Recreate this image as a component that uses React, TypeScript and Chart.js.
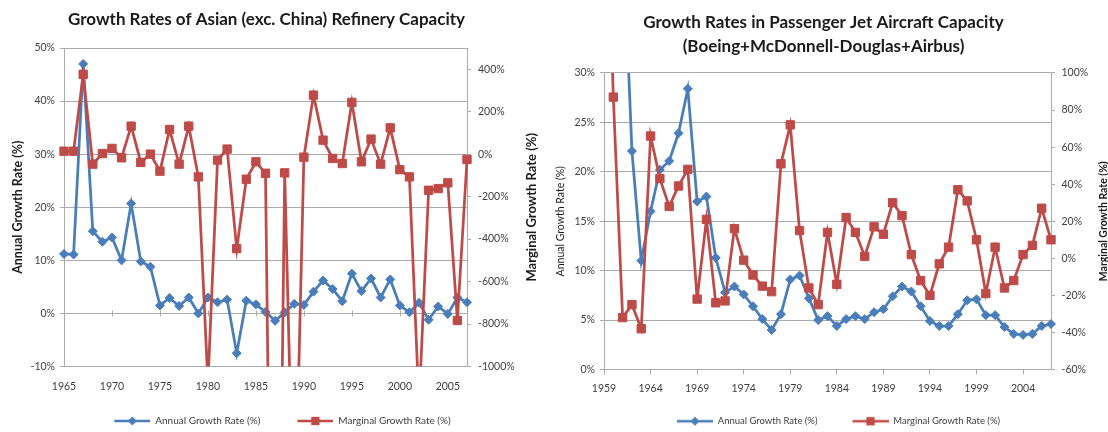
import React, { useEffect, useRef } from 'react';
import { Chart, registerables } from 'chart.js';

Chart.register(...registerables);

const FONT = 'Lato, "Liberation Sans", sans-serif';
Chart.defaults.font.family = FONT;

const BLUE = '#4A7EBB';
const RED = '#BE4B48';
const GRID = '#ABABAB';
const TEXT = '#3F3F3F';
const DARK = '#1A1A1A';

// ---------- Left chart: Asian (exc. China) refinery capacity ----------
const refineryYears = [
  1965, 1966, 1967, 1968, 1969, 1970, 1971, 1972, 1973, 1974,
  1975, 1976, 1977, 1978, 1979, 1980, 1981, 1982, 1983, 1984,
  1985, 1986, 1987, 1988, 1989, 1990, 1991, 1992, 1993, 1994,
  1995, 1996, 1997, 1998, 1999, 2000, 2001, 2002, 2003, 2004,
  2005, 2006, 2007,
];
const refineryAnnual = [
  11.2, 11.1, 47.0, 15.5, 13.5, 14.3, 10.0, 20.7, 9.8, 8.8,
  1.5, 2.9, 1.4, 3.0, 0.0, 3.0, 2.1, 2.6, -7.5, 2.4,
  1.7, 0.3, -1.4, 0.2, 1.8, 1.6, 4.1, 6.2, 4.6, 2.3,
  7.5, 4.2, 6.6, 3.0, 6.4, 1.5, 0.2, 2.0, -1.2, 1.3,
  -0.1, 3.0, 2.1,
];
const refineryMarginal = [
  14, 14, 376, -47, 3, 27, -17, 132, -39, 0,
  -80, 116, -47, 132, -107, -1080, -28, 24, -445, -118,
  -36, -90, -3800, -88, -1900, -14, 278, 66, -20, -44,
  244, -36, 71, -47, 124, -73, -107, -1180, -170, -162,
  -135, -783, -25,
];
const refineryYearTicks = [1965, 1970, 1975, 1980, 1985, 1990, 1995, 2000, 2005];
const refineryLeftTicks = [-10, 0, 10, 20, 30, 40, 50];
const refineryRightTicks = [-1000, -800, -600, -400, -200, 0, 200, 400];

// ---------- Right chart: passenger jet aircraft capacity ----------
const jetYears = [
  1959, 1960, 1961, 1962, 1963, 1964, 1965, 1966, 1967, 1968,
  1969, 1970, 1971, 1972, 1973, 1974, 1975, 1976, 1977, 1978,
  1979, 1980, 1981, 1982, 1983, 1984, 1985, 1986, 1987, 1988,
  1989, 1990, 1991, 1992, 1993, 1994, 1995, 1996, 1997, 1998,
  1999, 2000, 2001, 2002, 2003, 2004, 2005, 2006, 2007,
];
const jetAnnual = [
  80, 65, 45, 22.1, 11.0, 16.0, 20.2, 21.1, 23.9, 28.4,
  17.0, 17.5, 11.3, 7.8, 8.4, 7.6, 6.4, 5.1, 4.0, 5.6,
  9.1, 9.5, 7.2, 5.0, 5.4, 4.4, 5.1, 5.4, 5.1, 5.8,
  6.1, 7.4, 8.4, 7.9, 6.4, 4.9, 4.4, 4.4, 5.6, 7.0,
  7.1, 5.5, 5.5, 4.3, 3.6, 3.5, 3.6, 4.4, 4.6,
];
const jetMarginal = [
  250, 87, -32, -25, -38, 66, 43, 28, 39, 48,
  -22, 21, -24, -23, 16, -1, -9, -15, -18, 51,
  72, 15, -16, -25, 14, -14, 22, 14, 1, 17,
  13, 30, 23, 2, -12, -20, -3, 6, 37, 31,
  10, -19, 6, -16, -12, 2, 7, 27, 10,
];
const jetYearTicks = [1959, 1964, 1969, 1974, 1979, 1984, 1989, 1994, 1999, 2004];
const jetLeftTicks = [0, 5, 10, 15, 20, 25, 30];
const jetRightTicks = [-60, -40, -20, 0, 20, 40, 60, 80, 100];

const SERIES_LABELS = ['Annual Growth Rate (%)', 'Marginal Growth Rate (%)'];

// ---------- helpers ----------
function drawMarker(ctx: CanvasRenderingContext2D, style: string, x: number, y: number, color: string) {
  ctx.fillStyle = color;
  ctx.beginPath();
  if (style === 'rectRot') {
    const r = 4.5;
    ctx.moveTo(x - r, y);
    ctx.lineTo(x, y - r);
    ctx.lineTo(x + r, y);
    ctx.lineTo(x, y + r);
    ctx.closePath();
  } else {
    const s = 4.2;
    ctx.rect(x - s, y - s, 2 * s, 2 * s);
  }
  ctx.fill();
}

// Icon = blank lead-in (acts as spacing before the item) + 36px line with marker
function legendIcon(color: string, style: string, totalWidth: number): HTMLCanvasElement {
  const c = document.createElement('canvas');
  c.width = totalWidth;
  c.height = 12;
  const ctx = c.getContext('2d')!;
  const x0 = totalWidth - 36;
  ctx.strokeStyle = color;
  ctx.lineWidth = 2.5;
  ctx.beginPath();
  ctx.moveTo(x0, 6);
  ctx.lineTo(totalWidth, 6);
  ctx.stroke();
  drawMarker(ctx, style, x0 + 18, 6, color);
  return c;
}

const decorPlugin = {
  id: 'decor',
  beforeDatasetsDraw(chart: any, _args: any, opts: any) {
    if (!opts || !opts.zeroTicks) return;
    const { ctx } = chart;
    const y0 = chart.scales.y.getPixelForValue(0);
    ctx.save();
    ctx.strokeStyle = GRID;
    ctx.lineWidth = 1;
    opts.zeroTicks.forEach((v: number) => {
      const x = Math.round(chart.scales.x.getPixelForValue(v)) + 0.5;
      ctx.beginPath();
      ctx.moveTo(x, y0 - 3);
      ctx.lineTo(x, y0 + 3);
      ctx.stroke();
    });
    ctx.restore();
  },
  afterDraw(chart: any, _args: any, opts: any) {
    if (!opts || !opts.rightTitle) return;
    const { ctx, chartArea } = chart;
    const t = opts.rightTitle;
    ctx.save();
    ctx.font = t.font;
    ctx.fillStyle = t.color;
    ctx.translate(t.x, (chartArea.top + chartArea.bottom) / 2 + (t.dy || 0));
    ctx.rotate(-Math.PI / 2);
    ctx.textAlign = 'center';
    ctx.textBaseline = 'middle';
    ctx.fillText(t.text, 0, 0);
    ctx.restore();
  },
};

function fixedTicks(values: number[]) {
  return (scale: any) => {
    scale.ticks = values.map((v) => ({ value: v }));
  };
}

function makeDatasets(years: number[], annual: number[], marginal: number[]) {
  const clip = { left: 10, right: 10, top: 0, bottom: 0 };
  return [
    {
      label: SERIES_LABELS[0],
      data: years.map((x, i) => ({ x, y: annual[i] })),
      yAxisID: 'y',
      borderColor: BLUE,
      backgroundColor: BLUE,
      borderWidth: 2.75,
      pointStyle: 'rectRot',
      pointRadius: 4.5,
      pointBackgroundColor: BLUE,
      pointBorderColor: BLUE,
      pointBorderWidth: 1,
      order: 2,
      clip,
    },
    {
      label: SERIES_LABELS[1],
      data: years.map((x, i) => ({ x, y: marginal[i] })),
      yAxisID: 'y1',
      borderColor: RED,
      backgroundColor: RED,
      borderWidth: 2.75,
      pointStyle: 'rect',
      pointRadius: 5.9,
      pointBackgroundColor: RED,
      pointBorderColor: RED,
      pointBorderWidth: 1,
      order: 1,
      clip,
    },
  ];
}

function legendOptions(fontSize: number, lead: number) {
  const w = 36 + lead;
  return {
    display: true,
    position: 'bottom',
    labels: {
      usePointStyle: true,
      pointStyleWidth: w,
      padding: 5,
      color: TEXT,
      font: { size: fontSize, family: FONT },
      generateLabels: () => [
        { text: SERIES_LABELS[0], pointStyle: legendIcon(BLUE, 'rectRot', w), fillStyle: BLUE, strokeStyle: BLUE, lineWidth: 0, hidden: false, datasetIndex: 0, fontColor: TEXT },
        { text: SERIES_LABELS[1], pointStyle: legendIcon(RED, 'rect', w), fillStyle: RED, strokeStyle: RED, lineWidth: 0, hidden: false, datasetIndex: 1, fontColor: TEXT },
      ],
    },
  };
}

function refineryConfig(): any {
  return {
    type: 'line',
    data: { datasets: makeDatasets(refineryYears, refineryAnnual, refineryMarginal) },
    options: {
      responsive: false,
      animation: false,
      layout: { padding: { left: 0, right: 12, top: 0, bottom: 0 } },
      plugins: {
        title: {
          display: true,
          text: 'Growth Rates of Asian (exc. China) Refinery Capacity',
          color: DARK,
          font: { size: 17, weight: 'bold', family: FONT, lineHeight: 1.2 },
          padding: { top: 9.8, bottom: 17.8 },
        },
        legend: legendOptions(10, 32),
        tooltip: { enabled: false },
        decor: {
          zeroTicks: refineryYearTicks,
          rightTitle: { text: 'Marginal Growth Rate (%)', font: `bold 13px ${FONT}`, color: DARK, x: 532 },
        },
      },
      scales: {
        x: {
          type: 'linear',
          min: 1965,
          max: 2007,
          afterBuildTicks: fixedTicks(refineryYearTicks),
          afterFit: (s: any) => { s.height = 44.5; },
          grid: { display: true, drawOnChartArea: false, drawTicks: false },
          border: { display: true, color: GRID, width: 1 },
          ticks: { padding: 14, color: TEXT, font: { size: 10.5 }, maxRotation: 0, autoSkip: false, callback: (v: any) => String(v) },
        },
        y: {
          type: 'linear',
          position: 'left',
          min: -10,
          max: 50,
          afterBuildTicks: fixedTicks(refineryLeftTicks),
          afterFit: (s: any) => { s.width = 64; },
          grid: { color: GRID, lineWidth: 1, drawTicks: true, tickLength: 4 },
          border: { display: true, color: GRID, width: 1 },
          ticks: { padding: 5, color: TEXT, font: { size: 10.5 }, callback: (v: any) => `${v}%` },
          title: {
            display: true,
            text: 'Annual Growth Rate (%)',
            color: DARK,
            font: { size: 12.5, weight: 'bold', family: FONT, lineHeight: 1.2 },
            padding: { top: 10, bottom: 0 },
          },
        },
        y1: {
          type: 'linear',
          position: 'right',
          min: -1000,
          max: 500,
          afterBuildTicks: fixedTicks(refineryRightTicks),
          afterFit: (s: any) => { s.width = 66; },
          grid: { color: GRID, drawOnChartArea: false, drawTicks: true, tickLength: 4 },
          border: { display: true, color: GRID, width: 1 },
          ticks: { padding: 7, color: TEXT, font: { size: 10.5 }, callback: (v: any) => `${v}%` },
        },
      },
    },
    plugins: [decorPlugin],
  };
}

function jetConfig(): any {
  return {
    type: 'line',
    data: { datasets: makeDatasets(jetYears, jetAnnual, jetMarginal) },
    options: {
      responsive: false,
      animation: false,
      layout: { padding: { left: 0, right: 6, top: 0, bottom: 0 } },
      plugins: {
        title: {
          display: true,
          text: ['Growth Rates in Passenger Jet Aircraft Capacity', '(Boeing+McDonnell-Douglas+Airbus)'],
          color: DARK,
          font: { size: 17, weight: 'bold', family: FONT, lineHeight: 1.42 },
          padding: { top: 10, bottom: 14.7 },
        },
        legend: legendOptions(9.5, 30),
        tooltip: { enabled: false },
        decor: {
          rightTitle: { text: 'Marginal Growth Rate (%)', font: `bold 10.5px ${FONT}`, color: DARK, x: 559 },
        },
      },
      scales: {
        x: {
          type: 'linear',
          min: 1959,
          max: 2007,
          afterBuildTicks: fixedTicks(jetYearTicks),
          afterFit: (s: any) => { s.height = 42; },
          grid: { display: true, drawOnChartArea: false, drawTicks: true, tickLength: 5, color: GRID },
          border: { display: true, color: GRID, width: 1 },
          ticks: { padding: 8, color: TEXT, font: { size: 10.5 }, maxRotation: 0, autoSkip: false, callback: (v: any) => String(v) },
        },
        y: {
          type: 'linear',
          position: 'left',
          min: 0,
          max: 30,
          afterBuildTicks: fixedTicks(jetLeftTicks),
          afterFit: (s: any) => { s.width = 59; },
          grid: { color: GRID, lineWidth: 1, drawTicks: true, tickLength: 4 },
          border: { display: true, color: GRID, width: 1 },
          ticks: { padding: 5, color: TEXT, font: { size: 10.5 }, callback: (v: any) => `${v}%` },
          title: {
            display: true,
            text: 'Annual Growth Rate (%)',
            color: DARK,
            font: { size: 10.5, weight: 'normal', family: FONT, lineHeight: 1.2 },
            padding: { top: 9, bottom: 0 },
          },
        },
        y1: {
          type: 'linear',
          position: 'right',
          min: -60,
          max: 100,
          afterBuildTicks: fixedTicks(jetRightTicks),
          afterFit: (s: any) => { s.width = 51; },
          grid: { color: GRID, drawOnChartArea: false, drawTicks: true, tickLength: 4 },
          border: { display: true, color: GRID, width: 1 },
          ticks: { padding: 6.5, color: TEXT, font: { size: 10.5 }, callback: (v: any) => `${v}%` },
        },
      },
    },
    plugins: [decorPlugin],
  };
}

function ChartCanvas({ makeConfig, left, width, height }: { makeConfig: () => any; left: number; width: number; height: number }) {
  const ref = useRef<HTMLCanvasElement>(null);
  useEffect(() => {
    const chart = new Chart(ref.current as HTMLCanvasElement, makeConfig());
    return () => chart.destroy();
  }, [makeConfig]);
  return (
    <canvas
      ref={ref}
      width={width}
      height={height}
      style={{ position: 'absolute', left, top: 0, width, height, display: 'block' }}
    />
  );
}

export default function App() {
  return (
    <div
      style={{
        position: 'fixed',
        left: 0,
        top: 0,
        width: 1108,
        height: 432,
        overflow: 'hidden',
        background: '#ffffff',
      }}
    >
      <ChartCanvas makeConfig={refineryConfig} left={0} width={545} height={436} />
      <ChartCanvas makeConfig={jetConfig} left={545} width={563} height={436} />
    </div>
  );
}
